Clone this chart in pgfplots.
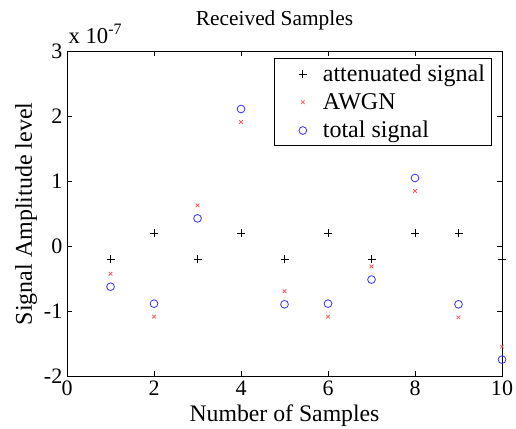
\documentclass[border=0pt]{standalone}
\usepackage{fontspec}
\setmainfont{Liberation Serif}
\usepackage{pgfplots}
\pgfplotsset{compat=1.18}
\definecolor{noisered}{RGB}{255,90,90}
\definecolor{totblue}{RGB}{50,50,255}
\begin{document}
\begin{tikzpicture}[font=\fontsize{17}{20}\selectfont]
\begin{axis}[
	scale only axis, width=326pt, height=244pt,
	xmin=0, xmax=10, ymin=-2, ymax=3,
	xtick={0,2,...,10}, ytick={-2,...,3},
	clip=false,
	axis line style={line width=0.6pt},
	every tick/.style={black, line width=0.6pt},
	major tick length=4pt,
	/pgf/number format/assume math mode=true,
	xticklabel={\pgfmathprintnumber{\tick}},
	yticklabel={\pgfmathprintnumber{\tick}},
	tick label style={font=\fontsize{16.5}{18}\selectfont},
	title={Received Samples},
	title style={at={(axis description cs:0.477,1)}, anchor=base, yshift=13pt, font=\fontsize{16}{18}\selectfont},
	xlabel={Number of Samples},
	xlabel style={at={(axis description cs:0.5,0)}, anchor=base, yshift=-34pt, font=\fontsize{17.8}{20}\selectfont},
	ylabel={Signal Amplitude level},
	ylabel style={at={(axis description cs:-0.094,0.5)}, anchor=center, font=\fontsize{18}{20}\selectfont},
	legend style={at={(axis description cs:0.977,0.978)}, anchor=north east,
		draw=black, line width=0.6pt, font=\fontsize{18}{20}\selectfont,
		inner xsep=4pt, inner ysep=2.5pt, row sep=3.5pt,
		nodes={inner xsep=1pt}},
	legend image code/.code={\path[draw=none] (0pt,-4pt) rectangle (31pt,4pt);
		\draw[mark repeat=2, mark phase=2, #1] plot coordinates {(0pt,0pt)(17pt,0pt)(31pt,0pt)};},
	legend cell align=left,
]
\addplot[only marks, mark=+, mark size=3pt, black, line width=0.6pt]
	coordinates {(1,-0.2)(2,0.2)(3,-0.2)(4,0.2)(5,-0.2)(6,0.2)(7,-0.2)(8,0.2)(9,0.2)(10,-0.2)};
\addplot[only marks, mark=x, mark size=1.9pt, noisered, line width=0.6pt]
	coordinates {(1,-0.42)(2,-1.08)(3,0.63)(4,1.91)(5,-0.69)(6,-1.08)(7,-0.31)(8,0.85)(9,-1.09)(10,-1.54)};
\addplot[only marks, mark=o, mark size=2.9pt, totblue, line width=0.6pt]
	coordinates {(1,-0.62)(2,-0.88)(3,0.43)(4,2.11)(5,-0.89)(6,-0.88)(7,-0.51)(8,1.05)(9,-0.89)(10,-1.74)};
\legend{attenuated signal, AWGN, total signal}
\node[anchor=base west, inner sep=0pt] at ([xshift=1pt, yshift=6pt]rel axis cs:0,1) {x 10\textsuperscript{-7}};
\end{axis}
\pgfresetboundingbox
\path ([xshift=-50.25pt, yshift=-39pt]current axis.south west) rectangle ([xshift=10.5pt, yshift=38.25pt]current axis.north east);
\end{tikzpicture}
\end{document}
